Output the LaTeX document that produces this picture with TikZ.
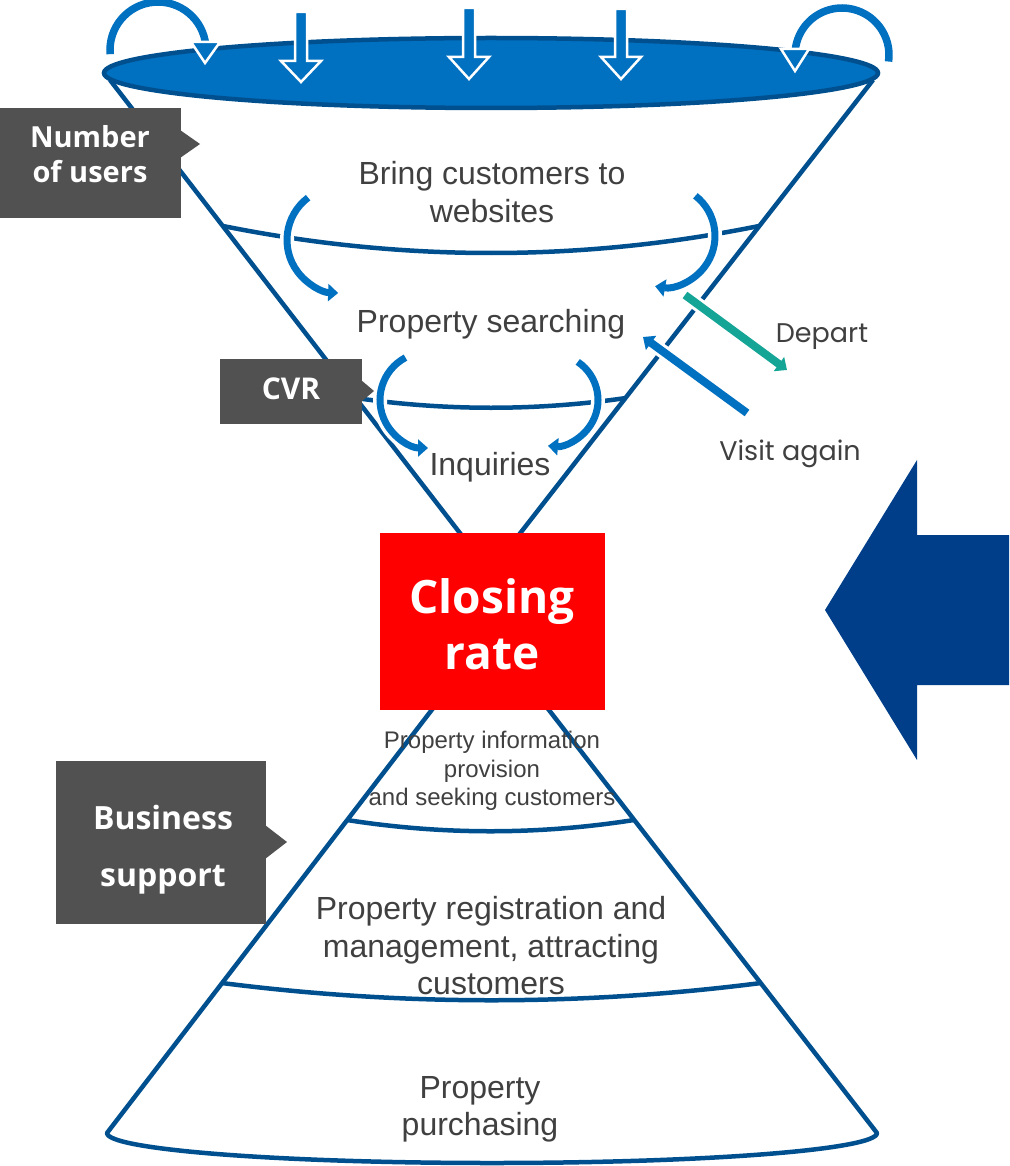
\documentclass[tikz,border=0pt]{standalone}
\usepackage{fontspec}
\setmainfont{Liberation Sans}
\newfontfamily\tagfont{Open Sans}
\newfontfamily\geofont{Poppins}
\usetikzlibrary{arrows.meta,calc}

\definecolor{funnelblue}{HTML}{00508F}
\definecolor{arrowblue}{HTML}{0070C0}
\definecolor{departteal}{HTML}{14A596}
\definecolor{taggray}{HTML}{515151}
\definecolor{textgray}{HTML}{404040}
\definecolor{navy}{HTML}{003E8A}
\definecolor{closered}{HTML}{FF0000}

\tikzset{
  funnel/.style={draw=funnelblue, line width=4.5pt, line join=round},
  halo/.style={preaction={draw=white, line width=#1}},
  flowarrow/.style={draw=arrowblue, line width=7pt,
    -{Triangle[length=10pt,width=17pt]}, halo=14pt},
  dropshape/.style={fill=arrowblue, draw=white, line width=2.5pt, line join=miter},
  stagetext/.style={text=textgray, align=center,
    font=\fontsize{32}{38}\selectfont},
  sidetext/.style={text=textgray, font=\geofont\fontsize{27}{32}\selectfont},
  tagbox/.style={fill=taggray},
  tagtext/.style={text=white, align=center},
}

\begin{document}
\begin{tikzpicture}[x=1pt,y=1pt]
\useasboundingbox (0,0) rectangle (1009,-1166);

% ---- upper cone (funnel) ----
\draw[funnel] (110,-80) -- (490,-572);
\draw[funnel] (873,-80) -- (490,-572);
\draw[funnel] (223,-226) .. controls (402,-262) and (581,-262) .. (759,-226);
\draw[funnel] (356,-398) .. controls (446,-411) and (536,-411) .. (626,-398);

% ---- lower cone ----
\draw[funnel] (490,-634) -- (107,-1133)
  arc[start angle=180, end angle=360, x radius=385, y radius=30]
  -- cycle;
\draw[funnel] (347,-820) .. controls (443,-835) and (538,-835) .. (634,-820);
\draw[funnel] (222,-983) .. controls (402,-1006) and (581,-1006) .. (761,-983);

% ---- funnel mouth ----
\draw[draw=funnelblue, line width=4.5pt, fill=arrowblue] (491,-73) ellipse [x radius=387, y radius=35];

% ---- inflow arrows at the mouth ----
\foreach \cx/\ya/\yb/\yc in {301/12/61/82, 469/8/57/79, 621/9/57/79}{
  \path[dropshape] (\cx-6,-\ya) -- (\cx+6,-\ya) -- (\cx+6,-\yb) -- (\cx+20,-\yb)
    -- (\cx,-\yc) -- (\cx-20,-\yb) -- (\cx-6,-\yb) -- cycle;
}
% returning loops
\draw[draw=arrowblue, line width=7.5pt, halo=12pt] ([shift={(185:48)}]158,-50) arc[start angle=185, end angle=5, radius=48];
\path[dropshape] (191,-42) -- (220,-42) -- (205,-63) -- cycle;
\draw[draw=arrowblue, line width=7.5pt, halo=12pt] ([shift={(-8:47)}]842,-55) arc[start angle=-8, end angle=175, radius=47];
\path[dropshape] (781,-49) -- (809,-49) -- (795,-71) -- cycle;

% ---- flow arrows inside the funnel ----
\draw[flowarrow] ([shift={(127:53)}]340,-240) arc[start angle=127, end angle=268, radius=53];
\draw[flowarrow] ([shift={(52:51)}]664,-236) arc[start angle=52, end angle=-100, radius=51];
\draw[flowarrow] ([shift={(118:48)}]428,-400) arc[start angle=118, end angle=270, radius=48];
\draw[flowarrow] ([shift={(56:46)}]552,-400) arc[start angle=56, end angle=-95, radius=46];

% ---- depart / visit again ----
\coordinate (departA) at (685,-295);
\coordinate (departB) at (787,-370);
\coordinate (visitA) at (747,-413);
\coordinate (visitB) at (643,-337);
\draw[draw=departteal, line width=8pt, halo=14pt, -{Triangle[length=10pt,width=17pt]}] (departA) -- (departB);
\draw[draw=arrowblue, line width=8pt, halo=14pt, -{Triangle[length=10pt,width=17pt]}] (visitA) -- (visitB);
\node[sidetext] (depart) at (822,-337) {Depart};
\node[sidetext] (visit) at (790,-454) {Visit again};

% ---- stage texts ----
\node[stagetext] (bring) at (492,-192) {Bring customers to\\websites};
\node[stagetext] (search) at (491,-324) {Property searching};
\node[stagetext] (inq) at (490,-467) {Inquiries};
\node[stagetext, font=\fontsize{24}{28.5}\selectfont] (provide) at (492,-771)
  {Property information\\provision\\and seeking customers};
\node[stagetext, font=\fontsize{32}{37.5}\selectfont] (register) at (491,-946)
  {Property registration and\\management, attracting\\customers};
\node[stagetext, font=\fontsize{32}{37}\selectfont] (purchase) at (480,-1109)
  {Property\\purchasing};

% ---- closing rate ----
\fill[closered] (380,-533) rectangle (605,-710);
\node[tagtext, font=\tagfont\bfseries\fontsize{46}{56}\selectfont] (closing) at (492,-624) {Closing\\rate};

% ---- emphasis arrow ----
\fill[navy] (1009,-535) -- (917,-535) -- (917,-460) -- (825,-610)
  -- (917,-760) -- (917,-685) -- (1009,-685) -- cycle;

% ---- tags ----
\fill[tagbox] (0,-108) rectangle (181,-218);
\fill[tagbox] (180,-130) -- (200,-144) -- (180,-158) -- cycle;
\node[tagtext, font=\tagfont\bfseries\fontsize{29}{35}\selectfont] (users) at (90,-154.5) {Number\\of users};

\fill[tagbox] (220,-359) rectangle (362,-424);
\fill[tagbox] (361,-380) -- (374,-391) -- (361,-402) -- cycle;
\node[tagtext, font=\tagfont\bfseries\fontsize{30}{36}\selectfont] (cvr) at (291,-389) {CVR};

\fill[tagbox] (56,-761) rectangle (266,-924);
\fill[tagbox] (265,-825) -- (287,-842) -- (265,-859) -- cycle;
\node[tagtext, font=\tagfont\bfseries\fontsize{32}{57}\selectfont] (support) at (163,-849.5) {Business\\support};

\end{tikzpicture}
\end{document}
